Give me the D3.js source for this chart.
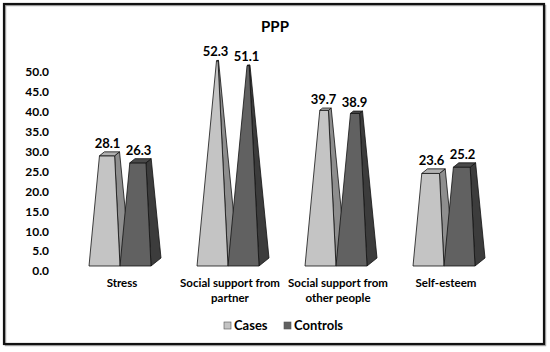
<!DOCTYPE html>
<html lang="en">
<head>
<meta charset="UTF-8">
<title>PPP</title>
<script src="https://d3js.org/d3.v7.min.js"></script>
<style>
  body { margin: 0; background: #fff; }
  svg { display: block; font-family: Lato, "Open Sans", sans-serif; font-weight: bold; }
</style>
</head>
<body>
<svg width="550" height="352"></svg>
<script>
// data
const categories = [
  ["Stress"],
  ["Social support from", "partner"],
  ["Social support from", "other people"],
  ["Self-esteem"]
];
const seriesNames = ["Cases", "Controls"];
const cases = [28.1, 52.3, 39.7, 23.6];
const controls = [26.3, 51.1, 38.9, 25.2];
const ticks = [0, 5, 10, 15, 20, 25, 30, 35, 40, 45, 50];

const svg = d3.select("svg");
const axisMax = 55;

// frame
svg.append("rect").attr("x", 5.5).attr("y", 5.5).attr("width", 540).attr("height", 340)
   .attr("fill", "none").attr("stroke", "#aaa").attr("stroke-width", 1.5);
svg.append("rect").attr("x", 4).attr("y", 4).attr("width", 540).attr("height", 340)
   .attr("fill", "none").attr("stroke", "#111").attr("stroke-width", 2.2);

// title
svg.append("text").attr("x", 275).attr("y", 32).attr("text-anchor", "middle")
   .style("font-size", "15px").text("PPP");

// scales
const x = d3.scaleBand().domain(d3.range(categories.length)).range([66, 498]);
const yAxis = d3.scaleLinear().domain([0, axisMax]).range([271, 52]);
const yBar = d3.scaleLinear().domain([0, axisMax]).range([266, 266 - axisMax * 3.85]);

// y axis (labels only)
const ag = svg.append("g").attr("transform", "translate(49,0)")
  .call(d3.axisLeft(yAxis).tickValues(ticks).tickFormat(d3.format(".1f")).tickSize(0).tickPadding(0));
ag.select(".domain").remove();
ag.selectAll("text").style("font-size", "12px").style("font-family", "Lato, sans-serif")
  .style("font-weight", "bold").attr("fill", "#000");

const barW = 31, dx = 10, dy = 8;
const styles = [
  { front: "#c4c4c4", side: "#8e8e8e", top: "#b0b0b0" },
  { front: "#616161", side: "#3c3c3c", top: "#4a4a4a" }
];

function pt(x0, u, z, h) {
  return [x0 + u + z * dx, yBar(h) - z * dy];
}

function drawBar(g, x0, v, st) {
  const s = 1 - v / axisMax;
  const uL = barW / 2 - s * barW / 2, uR = barW / 2 + s * barW / 2;
  const zF = 0.5 - s / 2, zB = 0.5 + s / 2;
  const line = d3.line();
  // side face
  g.append("path").attr("d", line([pt(x0, barW, 0, 0), pt(x0, barW, 1, 0), pt(x0, uR, zB, v), pt(x0, uR, zF, v)]) + "Z")
    .attr("fill", st.side).attr("stroke", "#111").attr("stroke-width", 0.8).attr("stroke-linejoin", "round");
  // front face
  g.append("path").attr("d", line([pt(x0, 0, 0, 0), pt(x0, barW, 0, 0), pt(x0, uR, zF, v), pt(x0, uL, zF, v)]) + "Z")
    .attr("fill", st.front).attr("stroke", "#111").attr("stroke-width", 0.8).attr("stroke-linejoin", "round");
  // top face
  g.append("path").attr("d", line([pt(x0, uL, zF, v), pt(x0, uR, zF, v), pt(x0, uR, zB, v), pt(x0, uL, zB, v)]) + "Z")
    .attr("fill", st.top).attr("stroke", "#111").attr("stroke-width", 0.8).attr("stroke-linejoin", "round");
  // value label
  const top = pt(x0, barW / 2, 0.5, v);
  g.append("text").attr("x", top[0] - 2).attr("y", pt(x0, barW / 2, zB, v)[1] - 4)
    .attr("text-anchor", "middle").style("font-size", "13px").text(v.toFixed(1));
}

const bars = svg.append("g");
[cases, controls].forEach((vals, si) => {
  vals.forEach((v, i) => {
    const cx = x(i) + x.bandwidth() / 2;
    const x0 = cx - barW + si * barW;
    drawBar(bars.append("g"), x0, v, styles[si]);
  });
});

// category labels
const cl = svg.append("g");
categories.forEach((lines, i) => {
  const cx = x(i) + x.bandwidth() / 2 + 2;
  const t = cl.append("text").attr("x", cx).attr("y", 287)
    .attr("text-anchor", "middle").style("font-size", "11.5px");
  lines.forEach((ln, j) => {
    t.append("tspan").attr("x", cx).attr("dy", j === 0 ? 0 : 15).text(ln);
  });
});

// legend
const legend = svg.append("g");
const legX = [224, 284];
seriesNames.forEach((n, i) => {
  legend.append("rect").attr("x", legX[i]).attr("y", 322).attr("width", 7).attr("height", 7)
    .attr("fill", styles[i].front).attr("stroke", "#555").attr("stroke-width", 0.6);
  legend.append("text").attr("x", legX[i] + 10).attr("y", 330).style("font-size", "13px").text(n);
});
</script>
</body>
</html>
